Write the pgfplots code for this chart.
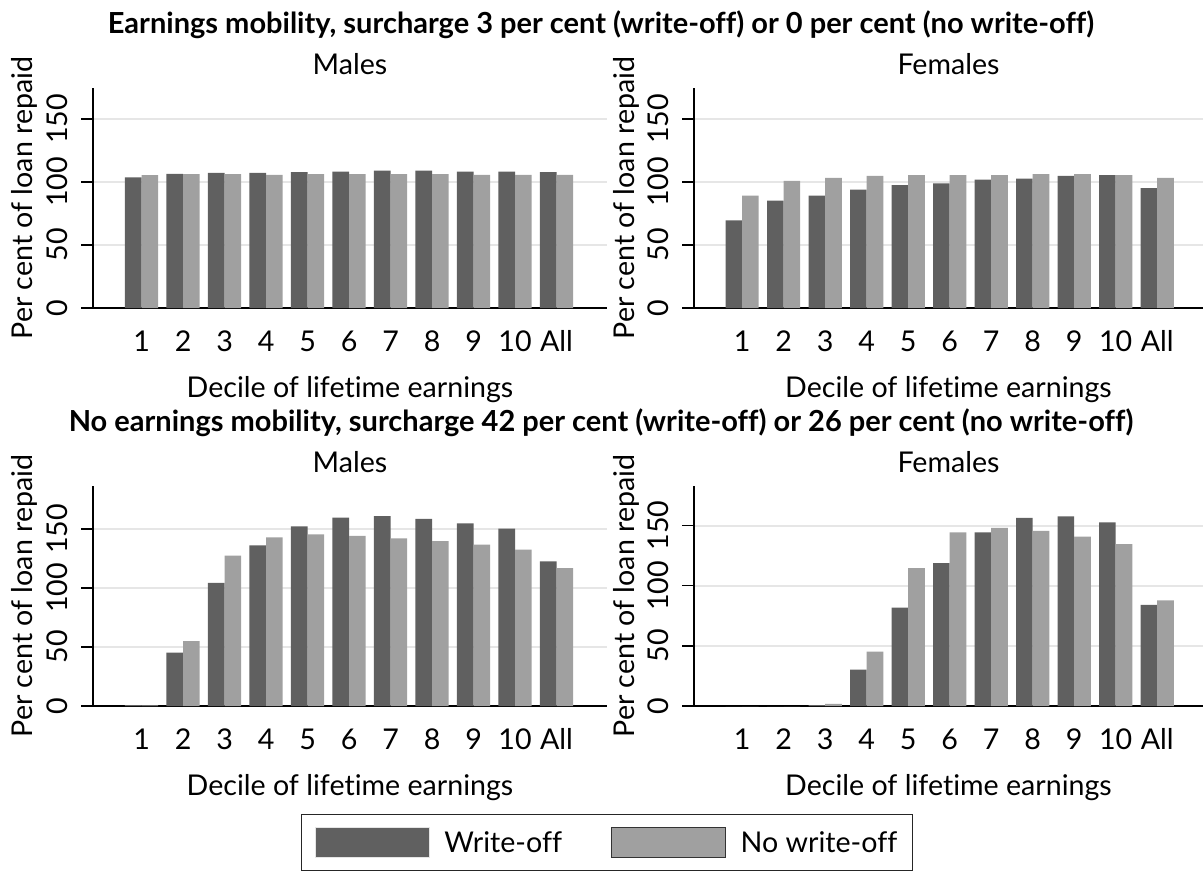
\documentclass[border=0pt]{standalone}
\usepackage{fontspec}
\setmainfont{Lato}[Ligatures={NoCommon}]
\usepackage{pgfplots}
\pgfplotsset{compat=1.18}
\definecolor{barDark}{RGB}{96,96,96}
\definecolor{barLight}{RGB}{160,160,160}
\definecolor{gridc}{RGB}{230,230,230}
\newcommand{\lbl}{\fontsize{28.6bp}{33bp}\selectfont}
\pgfplotsset{
  panel/.style={
    scale only axis, height=220bp,
    axis lines*=left,
    axis line style={line width=1.3bp, black},
    ybar, bar width=16.6bp,
    ymin=0,
    xtick={1,...,11}, xticklabels={1,2,3,4,5,6,7,8,9,10,All},
    ytick={0,50,100,150},
    ymajorgrids, grid style={gridc, line width=2.2bp},
    tick align=outside, major tick length=12bp,
    xtick style={draw=none},
    ytick style={line width=1.3bp, black},
    tick label style={font=\lbl},
    /pgf/number format/assume math mode=true,
    xticklabel style={yshift=-7bp},
    yticklabel style={rotate=90, anchor=south, inner ysep=13bp},
    every axis title/.style={at={(axis description cs:0.5,1)}, anchor=base, yshift=14bp, font=\lbl},
    every axis x label/.style={at={(axis description cs:0.5,0)}, anchor=base, yshift=-89bp, font=\lbl},
    every axis y label/.style={at={(axis description cs:-0.117,0.5)}, anchor=base, rotate=90, font=\lbl},
    ylabel={Per cent of loan repaid},
    xlabel={Decile of lifetime earnings},
  },
  dark/.style={fill=barDark, draw=none, bar shift=-8.3bp},
  light/.style={fill=barLight, draw=none, bar shift=8.3bp},
}
\begin{document}
\begin{tikzpicture}
\useasboundingbox (0,0) rectangle (1203bp,-871bp);
\node[anchor=base, font=\fontsize{29bp}{33bp}\selectfont\bfseries] at (601bp,-33bp) {Earnings mobility, surcharge 3 per cent (write-off) or 0 per cent (no write-off)};
\node[anchor=base, font=\fontsize{29bp}{33bp}\selectfont\bfseries] at (601bp,-431bp) {No earnings mobility, surcharge 42 per cent (write-off) or 26 per cent (no write-off)};

% Top-left: Males, mobility
\begin{axis}[panel, at={(93bp,-308bp)}, anchor=south west, width=514bp,
  xmin=-0.17, xmax=12.215, ymax=174.5, title={Males}]
\addplot[dark] coordinates {(1,103.7) (2,106.3) (3,107.1) (4,107.1) (5,107.7) (6,108.2) (7,109.0) (8,109.0) (9,108.2) (10,108.2) (11,107.7)};
\addplot[light] coordinates {(1,105.3) (2,106.1) (3,106.1) (4,105.6) (5,106.1) (6,106.1) (7,106.1) (8,106.1) (9,105.6) (10,105.6) (11,105.6)};
\end{axis}

% Top-right: Females, mobility
\begin{axis}[panel, at={(694bp,-308bp)}, anchor=south west, width=509bp,
  xmin=-0.16, xmax=12.105, ymax=174.5, title={Females}]
\addplot[dark] coordinates {(1,69.6) (2,85.2) (3,89.2) (4,93.9) (5,97.4) (6,98.9) (7,101.9) (8,102.6) (9,104.8) (10,105.3) (11,95.0)};
\addplot[light] coordinates {(1,89.2) (2,100.8) (3,103.2) (4,104.8) (5,105.3) (6,105.3) (7,105.3) (8,106.1) (9,106.1) (10,105.3) (11,103.2)};
\end{axis}

% Bottom-left: Males, no mobility
\begin{axis}[panel, at={(93bp,-706bp)}, anchor=south west, width=514bp,
  xmin=-0.17, xmax=12.215, ymax=186.4, title={Males},
  legend style={at={(axis description cs:1.0,-0.62)}, anchor=center,
    draw=black!85, line width=1bp, fill=white,
    inner xsep=13bp, inner ysep=12.5bp, font=\lbl,
    /tikz/every odd column/.append style={column sep=12.5bp},
    /tikz/every even column/.append style={column sep=47bp}},
  legend columns=2, legend cell align=left]
\addplot[dark, forget plot] coordinates {(1,0.8) (2,45.3) (3,104.4) (4,136.1) (5,152.3) (6,159.6) (7,160.8) (8,158.5) (9,154.8) (10,150.3) (11,122.6)};
\addplot[light, forget plot] coordinates {(1,0.6) (2,54.9) (3,127.4) (4,142.9) (5,145.5) (6,144.1) (7,142.1) (8,139.8) (9,136.7) (10,132.5) (11,116.9)};
\addlegendimage{legend image code/.code={\draw[fill=barDark, draw=black!10, line width=1.2bp] (0bp,-15bp) rectangle (114bp,15bp);}}
\addlegendentry{Write-off}
\addlegendimage{legend image code/.code={\draw[fill=barLight, draw=black!80, line width=1.2bp] (0bp,-15bp) rectangle (114bp,15bp);}}
\addlegendentry{No write-off}
\end{axis}

% Bottom-right: Females, no mobility
\begin{axis}[panel, at={(694bp,-706bp)}, anchor=south west, width=509bp,
  xmin=-0.16, xmax=12.105, ymax=183, title={Females}]
\addplot[dark] coordinates {(1,0) (2,0) (3,0.8) (4,30.3) (5,81.9) (6,118.9) (7,144.4) (8,156.4) (9,157.8) (10,152.8) (11,84.2)};
\addplot[light] coordinates {(1,0) (2,0) (3,1.7) (4,45.3) (5,114.7) (6,144.4) (7,148.1) (8,145.6) (9,140.8) (10,134.7) (11,87.8)};
\end{axis}
\end{tikzpicture}
\end{document}
